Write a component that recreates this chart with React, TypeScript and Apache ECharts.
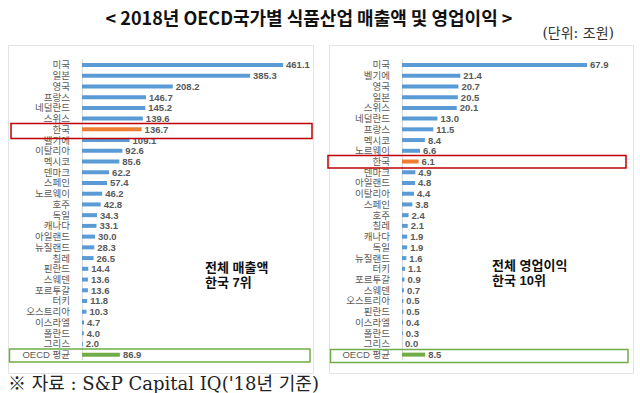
import React, { useEffect, useRef } from "react";
import * as echarts from "echarts";

const salesCountries = [
  "미국", "일본", "영국", "프랑스", "네덜란드", "스위스", "한국", "벨기에", "이탈리아", "멕시코",
  "덴마크", "스페인", "노르웨이", "호주", "독일", "캐나다", "아일랜드", "뉴질랜드", "칠레", "핀란드",
  "스웨덴", "포르투갈", "터키", "오스트리아", "이스라엘", "폴란드", "그리스", "OECD 평균",
];
const salesValues = [
  461.1, 385.3, 208.2, 146.7, 145.2, 139.6, 136.7, 109.1, 92.6, 85.6,
  62.2, 57.4, 46.2, 42.8, 34.3, 33.1, 30.0, 28.3, 26.5, 14.4,
  13.6, 13.6, 11.8, 10.3, 4.7, 4.0, 2.0, 86.9,
];
const profitCountries = [
  "미국", "벨기에", "영국", "일본", "스위스", "네덜란드", "프랑스", "멕시코", "노르웨이", "한국",
  "덴마크", "아일랜드", "이탈리아", "스페인", "호주", "칠레", "캐나다", "독일", "뉴질랜드", "터키",
  "포르투갈", "스웨덴", "오스트리아", "핀란드", "이스라엘", "폴란드", "그리스", "OECD 평균",
];
const profitValues = [
  67.9, 21.4, 20.7, 20.5, 20.1, 13.0, 11.5, 8.4, 6.6, 6.1,
  4.9, 4.8, 4.4, 3.8, 2.4, 2.1, 1.9, 1.9, 1.6, 1.1,
  0.9, 0.7, 0.5, 0.5, 0.4, 0.3, 0.0, 8.5,
];

const BLUE = "#5B9BD5";
const ORANGE = "#ED7D31";
const GREEN = "#70AD47";
const FONT = "'Noto Sans CJK KR', 'Noto Sans', sans-serif";
const LFONT = "'Liberation Sans', 'Noto Sans CJK KR', sans-serif";
const SERIF = "'DejaVu Serif', 'Noto Sans CJK KR', serif";

function buildData(names: string[], values: number[]) {
  return values.map((v, i) => {
    const n = names[i];
    const color = n === "한국" ? ORANGE : n === "OECD 평균" ? GREEN : BLUE;
    return { value: v, itemStyle: { color } };
  });
}

export default function App() {
  const ref = useRef<HTMLDivElement>(null);
  useEffect(() => {
    if (!ref.current) return;
    const chart = echarts.init(ref.current, undefined, { renderer: "svg" });
    const yAxisCommon = {
      type: "category" as const,
      inverse: true,
      axisLine: { show: true, lineStyle: { color: "#D9D9D9", width: 1 } },
      axisTick: { show: false },
      axisLabel: {
        interval: 0,
        margin: 12,
        fontSize: 9.5,
        lineHeight: 9.5,
        color: "#595959",
        fontFamily: LFONT,
      },
    };
    const labelCommon = {
      show: true,
      position: "right" as const,
      distance: 3,
      fontSize: 9.5,
      lineHeight: 9.5,
      fontWeight: "bold" as const,
      color: "#595959",
      fontFamily: LFONT,
      formatter: (p: any) => Number(p.value).toFixed(1),
    };
    const txt = (x: number, y: number, text: string) => ({
      type: "text" as const,
      x,
      y,
      style: {
        text,
        fontSize: 13,
        fontWeight: "bold",
        fill: "#111",
        fontFamily: LFONT,
        textAlign: "left",
        textVerticalAlign: "middle",
      },
    });
    chart.setOption({
      animation: false,
      backgroundColor: "#ffffff",
      grid: [
        { left: 82, top: 59.6, width: 218, height: 300.4 },
        { left: 402, top: 59.6, width: 218, height: 300.4 },
      ],
      xAxis: [
        { type: "value", gridIndex: 0, min: 0, max: 500, show: false },
        { type: "value", gridIndex: 1, min: 0, max: 80, show: false },
      ],
      yAxis: [
        { ...yAxisCommon, gridIndex: 0, data: salesCountries },
        { ...yAxisCommon, gridIndex: 1, data: profitCountries },
      ],
      series: [
        {
          type: "bar",
          xAxisIndex: 0,
          yAxisIndex: 0,
          barWidth: 4,
          data: buildData(salesCountries, salesValues),
          label: labelCommon,
        },
        {
          type: "bar",
          xAxisIndex: 1,
          yAxisIndex: 1,
          barWidth: 4,
          data: buildData(profitCountries, profitValues),
          label: labelCommon,
        },
      ],
      graphic: [
        { type: "rect", shape: { x: 8.5, y: 45.5, width: 305, height: 328 }, style: { fill: "none", stroke: "#E3E3E3", lineWidth: 1 }, z: 1 },
        { type: "rect", shape: { x: 329.5, y: 45.5, width: 304, height: 328 }, style: { fill: "none", stroke: "#E3E3E3", lineWidth: 1 }, z: 1 },
        { type: "rect", shape: { x: 11, y: 123.5, width: 301, height: 15 }, style: { fill: "none", stroke: "#C00000", lineWidth: 1.5 }, z: 10 },
        { type: "rect", shape: { x: 328, y: 155.5, width: 298, height: 12.5 }, style: { fill: "none", stroke: "#C00000", lineWidth: 1.5 }, z: 10 },
        { type: "rect", shape: { x: 9.5, y: 349, width: 300.5, height: 13 }, style: { fill: "none", stroke: GREEN, lineWidth: 1.5 }, z: 10 },
        { type: "rect", shape: { x: 330.5, y: 349.5, width: 297.5, height: 13 }, style: { fill: "none", stroke: GREEN, lineWidth: 1.5 }, z: 10 },
        {
          type: "text", x: 309, y: 17,
          style: { text: "< 2018년 OECD국가별 식품산업 매출액 및 영업이익 >", fontSize: 18, fontWeight: "bold", fill: "#111", fontFamily: FONT, textAlign: "center", textVerticalAlign: "middle" },
        },
        {
          type: "text", x: 614, y: 33,
          style: { text: "(단위: 조원)", fontSize: 14, fill: "#333", fontFamily: SERIF, textAlign: "right", textVerticalAlign: "middle" },
        },
        {
          type: "text", x: 8, y: 383,
          style: { text: "※ 자료 : S&P Capital IQ('18년 기준)", fontSize: 18, fill: "#222", fontFamily: SERIF, textAlign: "left", textVerticalAlign: "middle" },
        },
        txt(205, 267.5, "전체 매출액"),
        txt(205, 282.3, "한국 7위"),
        txt(492, 265.5, "전체 영업이익"),
        txt(492, 280.3, "한국 10위"),
      ],
    });
    return () => chart.dispose();
  }, []);
  return (
    <div
      ref={ref}
      style={{ position: "absolute", left: 0, top: 0, width: 640, height: 393 }}
    />
  );
}
